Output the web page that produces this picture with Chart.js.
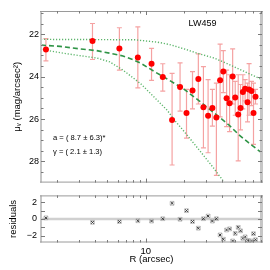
<!DOCTYPE html>
<html><head><meta charset="utf-8">
<script src="https://cdn.jsdelivr.net/npm/chart.js@4/dist/chart.umd.min.js"></script>
<style>
html,body{margin:0;padding:0;background:#fff;width:270px;height:270px;overflow:hidden;}
#c1{position:absolute;left:0;top:0;}
#c2{position:absolute;left:0;top:186px;}
</style></head><body>
<canvas id="c1" width="270" height="190"></canvas>
<canvas id="c2" width="270" height="84"></canvas>
<script>
// ---- data ----
const radius = [1.64, 3.81, 6.20, 8.66, 11.1, 13.6, 16.1, 18.6, 20.9, 23.3, 25.9, 28.4, 30.9, 33.4, 35.9, 38.4, 40.7, 43.2, 45.6, 48.2, 50.5, 53.3, 55.6, 58.0, 60.4, 63.1, 64.9, 67.8, 70.3, 72.9];
const mu = [22.72, 22.32, 22.67, 23.10, 23.39, 24.02, 26.05, 24.49, 25.72, 24.65, 24.11, 25.44, 25.84, 25.48, 25.93, 24.17, 23.76, 25.02, 25.26, 23.99, 24.98, 25.78, 25.48, 24.72, 24.57, 25.21, 24.60, 24.68, 25.71, 24.95];
const muErrTop = [22.20, 21.49, 21.69, 21.65, 22.66, 23.39, 23.84, 23.35, 24.60, 23.76, 22.92, 23.53, 24.14, 24.60, 24.30, 22.46, 22.77, 23.69, 23.91, 22.69, 24.22, 23.91, 24.37, 23.91, 24.14, 24.30, 23.38, 24.22, 24.30, 24.60];
const muErrBottom = [23.25, 23.19, 23.69, 24.53, 24.17, 24.68, 28.17, 25.63, 26.90, 25.52, 25.29, 27.36, 27.59, 26.33, 28.66, 25.90, 24.75, 26.36, 26.59, 25.29, 25.82, 27.97, 26.51, 25.52, 25.14, 26.13, 25.82, 25.37, 27.20, 25.29];
const residuals = [0.13, -0.41, -0.31, -0.21, -0.25, 0.03, 1.86, -0.04, 0.99, -0.31, -1.10, 0.03, 0.34, -0.25, 0.03, -1.90, -2.41, -1.31, -1.18, -2.62, -1.72, -1.00, -1.41, -2.31, -2.13, -2.55, -2.62, -2.62, -1.75, -2.47];

const modelR  = [1.5, 2.12, 3.03, 4.10, 5.20, 6.61, 7.91, 9.21, 11.69, 13.99, 16.75, 20.05, 26.28, 31.46, 37.65, 45.08, 53.95, 64.6, 80.2];
const modelMu = [22.51, 22.57, 22.69, 22.77, 22.89, 23.02, 23.19, 23.38, 23.76, 24.03, 24.31, 24.60, 25.14, 25.52, 25.90, 26.28, 26.74, 27.13, 27.56];
const upperR  = [1.5, 4.35, 8.17, 12.34, 15.31, 20.05, 26.28, 34.43, 45.08, 59.0, 80.2];
const upperMu = [22.24, 22.25, 22.26, 22.37, 22.48, 22.69, 22.92, 23.12, 23.42, 23.74, 24.11];
const lowerR  = [1.5, 2.40, 4.12, 5.20, 6.58, 8.17, 9.26, 12.34, 14.77, 16.75, 20.05, 26.28, 34.43, 41.2];
const lowerMu = [22.71, 22.92, 23.12, 23.30, 23.68, 24.11, 24.37, 25.12, 25.59, 26.04, 26.59, 27.46, 28.34, 28.97];

const xTickVals = [2,3,4,5,6,7,8,9,10,20,30,40,50,60,70,80];
const xMajorVals = [10];
const xLabelVals = [10];
const muLabelVals = [22, 24, 26, 28];
const muMinorVals = [21,21.5,22,22.5,23,23.5,24,24.5,25,25.5,26,26.5,27,27.5,28,28.5];
const residLabelVals = [-2,-1,0,1,2];

const galaxyName = 'LW459';
const fitLines = ['a = ( 8.7 \u00B1 6.3)*', '\u03B3 = ( 2.1 \u00B1 1.3)'];

const FONT = "'Liberation Sans', Arial, Helvetica, sans-serif";
const pts = (xs, ys) => xs.map((v, i) => ({x: v, y: ys[i]}));

function framePlugin(yMinor, yMajor) {
  return {
    id: 'frame',
    afterDraw(chart) {
      const {ctx, chartArea: a, scales: {x, y}} = chart;
      ctx.save();
      ctx.fillStyle = '#c6c6c6';
      ctx.fillRect(a.left - 1, a.top, 2, a.bottom - a.top);
      ctx.fillRect(a.right - 2, a.top, 3, a.bottom - a.top);
      ctx.strokeStyle = '#9a9a9a';
      ctx.lineWidth = 1;
      ctx.beginPath();
      ctx.moveTo(a.left - 1, a.top + 0.5); ctx.lineTo(a.right + 1, a.top + 0.5);
      ctx.moveTo(a.left - 1, a.bottom - 0.5); ctx.lineTo(a.right + 1, a.bottom - 0.5);
      ctx.stroke();
      ctx.strokeStyle = '#7a7a7a';
      ctx.beginPath();
      xTickVals.forEach(v => {
        const px = Math.round(x.getPixelForValue(v)) + 0.5;
        const L = xMajorVals.includes(v) ? 4 : 2.5;
        ctx.moveTo(px, a.top); ctx.lineTo(px, a.top + L);
        ctx.moveTo(px, a.bottom); ctx.lineTo(px, a.bottom - L);
      });
      yMinor.forEach(v => {
        const py = Math.round(y.getPixelForValue(v)) + 0.5;
        const L = yMajor.includes(v) ? 4 : 2.5;
        ctx.moveTo(a.left, py); ctx.lineTo(a.left + L, py);
        ctx.moveTo(a.right, py); ctx.lineTo(a.right - L, py);
      });
      ctx.stroke();
      ctx.restore();
    }
  };
}

const errBars = {
  id: 'errbars',
  beforeDatasetsDraw(chart) {
    const {ctx, chartArea: a, scales: {x, y}} = chart;
    ctx.save();
    ctx.beginPath(); ctx.rect(a.left, a.top, a.right - a.left, a.bottom - a.top); ctx.clip();
    ctx.strokeStyle = '#f5a2a2';
    ctx.lineWidth = 1.2;
    radius.forEach((r, i) => {
      const px = x.getPixelForValue(r);
      const y1 = y.getPixelForValue(muErrTop[i]);
      const y2 = y.getPixelForValue(muErrBottom[i]);
      ctx.beginPath();
      ctx.moveTo(px, y1); ctx.lineTo(px, y2);
      ctx.moveTo(px - 2.5, y1); ctx.lineTo(px + 2.5, y1);
      ctx.moveTo(px - 2.5, y2); ctx.lineTo(px + 2.5, y2);
      ctx.stroke();
    });
    ctx.restore();
  }
};

const notes = {
  id: 'notes',
  afterDraw(chart) {
    const {ctx} = chart;
    ctx.save();
    ctx.fillStyle = '#000';
    ctx.textBaseline = 'middle';
    ctx.font = '9px ' + FONT;
    ctx.textAlign = 'center';
    ctx.fillText(galaxyName, 202.5, 24);
    ctx.font = '7.6px ' + FONT;
    ctx.textAlign = 'left';
    ctx.fillText(fitLines[0], 53, 138);
    ctx.fillText(fitLines[1], 53, 152);
    ctx.restore();
  }
};

new Chart(document.getElementById('c1'), {
  type: 'scatter',
  data: {
    datasets: [
      {data: pts(upperR, upperMu), showLine: true, borderColor: '#5db56b', borderWidth: 1.4, borderDash: [1.2, 1.8], pointRadius: 0, order: 3},
      {data: pts(lowerR, lowerMu), showLine: true, borderColor: '#5db56b', borderWidth: 1.4, borderDash: [1.2, 1.8], pointRadius: 0, order: 3},
      {data: pts(modelR, modelMu), showLine: true, borderColor: '#2f9446', borderWidth: 1.6, borderDash: [5, 3], pointRadius: 0, order: 2},
      {data: pts(radius, mu), pointRadius: 3, pointBackgroundColor: '#ff0000', pointBorderColor: '#ff0000', pointBorderWidth: 0, order: 1}
    ]
  },
  options: {
    responsive: false, animation: false, devicePixelRatio: 1,
    layout: {padding: {left: 0, right: 8, top: 11, bottom: 3.3}},
    plugins: {legend: {display: false}, tooltip: {enabled: false}},
    scales: {
      x: {type: 'logarithmic', min: 1.5, max: 82, display: false},
      y: {
        reverse: true, min: 20.9, max: 29.0,
        afterFit: s => { s.width = 41; },
        afterBuildTicks: s => { s.ticks = muLabelVals.map(v => ({value: v})); },
        grid: {display: false, drawTicks: false}, border: {display: false},
        ticks: {padding: 2, font: {family: FONT, size: 9}, color: '#000', callback: v => String(v)},
        title: {display: true, text: '\u03BC\u1D65 (mag/arcsec\u00B2)', font: {family: FONT, size: 9.5}, color: '#000', padding: {top: 11.5, bottom: 0}}
      }
    }
  },
  plugins: [errBars, framePlugin(muMinorVals, muLabelVals), notes]
});

const zeroLine = {
  id: 'zeroLine',
  beforeDatasetsDraw(chart) {
    const {ctx, chartArea: a, scales: {y}} = chart;
    const py = y.getPixelForValue(0);
    ctx.save();
    ctx.strokeStyle = '#d0d0d0';
    ctx.lineWidth = 2.5;
    ctx.beginPath(); ctx.moveTo(a.left, py); ctx.lineTo(a.right, py); ctx.stroke();
    ctx.restore();
  }
};

new Chart(document.getElementById('c2'), {
  type: 'scatter',
  data: {
    datasets: [
      {data: pts(radius, residuals), pointStyle: 'rect', pointRadius: 2.7, pointBorderColor: '#b5b5b5', pointBorderWidth: 0.8, pointBackgroundColor: 'rgba(0,0,0,0)'},
      {data: pts(radius, residuals), pointStyle: 'crossRot', pointRadius: 2.2, pointBorderColor: '#333', pointBorderWidth: 1, pointBackgroundColor: 'rgba(0,0,0,0)'}
    ]
  },
  options: {
    responsive: false, animation: false, devicePixelRatio: 1,
    layout: {padding: {left: 0, right: 8, top: 3.3, bottom: 0}},
    plugins: {legend: {display: false}, tooltip: {enabled: false}},
    scales: {
      x: {
        type: 'logarithmic', min: 1.5, max: 82,
        afterFit: s => { s.height = 27.5; },
        afterBuildTicks: s => { s.ticks = xLabelVals.map(v => ({value: v})); },
        grid: {display: false, drawTicks: false}, border: {display: false},
        ticks: {padding: 3, autoSkip: false, maxRotation: 0, font: {family: FONT, size: 9.5}, color: '#000', callback: v => String(v)},
        title: {display: true, text: 'R (arcsec)', font: {family: FONT, size: 9.5}, color: '#000', padding: {top: 0, bottom: 5.3}}
      },
      y: {
        min: -2.8, max: 2.8,
        afterFit: s => { s.width = 41; },
        afterBuildTicks: s => { s.ticks = residLabelVals.map(v => ({value: v})); },
        grid: {display: false, drawTicks: false}, border: {display: false},
        ticks: {padding: 4, font: {family: FONT, size: 9}, color: '#000', callback: v => (v < 0 ? '\u2212' + Math.abs(v) : String(v))},
        title: {display: true, text: 'residuals', font: {family: FONT, size: 9.5}, color: '#000', padding: {top: 7.8, bottom: 0}}
      }
    }
  },
  plugins: [zeroLine, framePlugin(residLabelVals, residLabelVals)]
});
</script>
</body></html>
